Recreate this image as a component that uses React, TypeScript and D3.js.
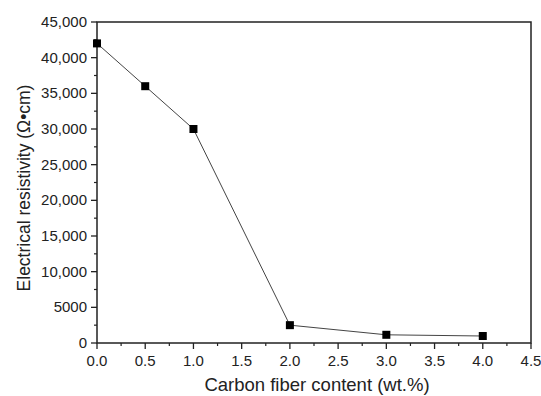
import React from "react";
import * as d3 from "d3";

const fiberContent = [0, 0.5, 1, 2, 3, 4];
const resistivity = [42000, 36000, 30000, 2500, 1150, 980];
const xTicks = [0, 0.5, 1, 1.5, 2, 2.5, 3, 3.5, 4, 4.5];
const yTicks = [0, 5000, 10000, 15000, 20000, 25000, 30000, 35000, 40000, 45000];
const yTickLabels = ["0", "5000", "10,000", "15,000", "20,000", "25,000", "30,000", "35,000", "40,000", "45,000"];

export default function App() {
  const W = 541, H = 396;
  const left = 97, right = 531, top = 22, bottom = 343;
  const x = d3.scaleLinear().domain([0, 4.5]).range([left, right]);
  const y = d3.scaleLinear().domain([0, 45000]).range([bottom, top]);
  const pts = fiberContent.map((v, i) => [v, resistivity[i]] as [number, number]);
  const line = d3.line<[number, number]>().x(d => x(d[0])).y(d => y(d[1]));
  const minorX = d3.range(0, 9).map(i => 0.25 + i * 0.5);
  const minorY = d3.range(0, 9).map(i => 2500 + i * 5000);
  const font = "'Liberation Sans', Arial, sans-serif";
  return (
    <svg width={W} height={H} style={{ position: "absolute", left: 0, top: 0, background: "#fff" }} fontFamily={font}>
      <rect x={left} y={top} width={right - left} height={bottom - top} fill="none" stroke="#222" strokeWidth={1.5} />
      {xTicks.map((t, i) => (
        <g key={"xt" + i}>
          <line x1={x(t)} x2={x(t)} y1={bottom} y2={bottom + 6} stroke="#222" strokeWidth={1.3} />
          <text x={x(t)} y={bottom + 23} fontSize={15} textAnchor="middle" fill="#222">{t.toFixed(1)}</text>
        </g>
      ))}
      {minorX.map((t, i) => (
        <line key={"xm" + i} x1={x(t)} x2={x(t)} y1={bottom} y2={bottom + 3} stroke="#222" strokeWidth={1.2} />
      ))}
      {yTicks.map((t, i) => (
        <g key={"yt" + i}>
          <line x1={left} x2={left - 6} y1={y(t)} y2={y(t)} stroke="#222" strokeWidth={1.3} />
          <text x={left - 10} y={y(t) + 5} fontSize={15} textAnchor="end" fill="#222">{yTickLabels[i]}</text>
        </g>
      ))}
      {minorY.map((t, i) => (
        <line key={"ym" + i} x1={left} x2={left - 3} y1={y(t)} y2={y(t)} stroke="#222" strokeWidth={1.2} />
      ))}
      <path d={line(pts) || ""} fill="none" stroke="#444" strokeWidth={1} />
      {pts.map((p, i) => (
        <rect key={"m" + i} x={x(p[0]) - 4} y={y(p[1]) - 4} width={8} height={8} fill="#000" />
      ))}
      <text x={317} y={391} fontSize={18.5} textAnchor="middle" fill="#222">Carbon fiber content (wt.%)</text>
      <text transform={`translate(30, 188) rotate(-90)`} fontSize={17.5} textAnchor="middle" fill="#222">Electrical resistivity (Ω•cm)</text>
    </svg>
  );
}
